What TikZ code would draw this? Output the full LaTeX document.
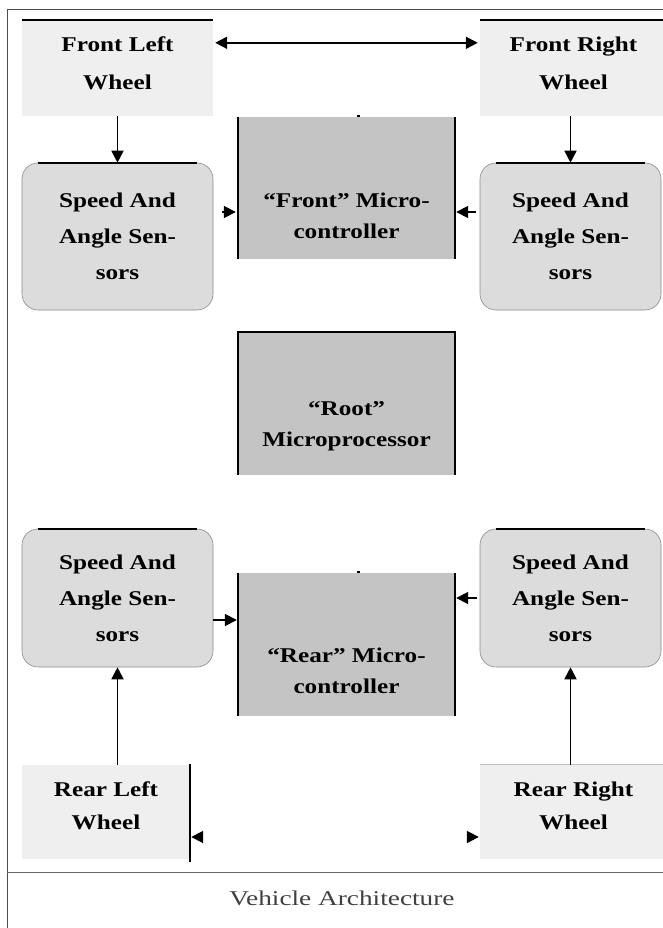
\documentclass[tikz,border=0pt]{standalone}
\usepackage{fontspec}
\setmainfont{Liberation Serif}
\newfontfamily\boxfont[FakeStretch=1.2]{Liberation Serif}
\newfontfamily\capfont[FakeStretch=1.3]{Liberation Serif}
\usetikzlibrary{arrows.meta,calc}
\definecolor{wheelgray}{HTML}{EFEFEF}
\definecolor{sensorgray}{HTML}{DCDCDC}
\definecolor{microgray}{HTML}{C4C4C4}
\tikzset{
  boxtext/.style={font=\boxfont\bfseries\fontsize{21}{36}\selectfont, align=center},
  wheeltext/.style={font=\boxfont\bfseries\fontsize{21}{38}\selectfont, align=center},
  rwheeltext/.style={font=\boxfont\bfseries\fontsize{21}{33}\selectfont, align=center},
  microtext/.style={font=\boxfont\bfseries\fontsize{21}{31}\selectfont, align=center},
  wheel/.style={fill=wheelgray, inner sep=0pt},
  sensor/.style={fill=sensorgray, draw=black!45, line width=0.6pt, rounded corners=16pt, inner sep=0pt, boxtext},
  micro/.style={fill=microgray, minimum width=217pt, inner sep=0pt},
  edge/.style={line width=1.7pt, black},
  arr/.style={line width=1.8pt, black, -{Triangle[length=12pt,width=12pt]}},
  frame/.style={black!70, line width=1pt}
}
\begin{document}
\begin{tikzpicture}[x=1pt,y=-1pt]
\useasboundingbox (0,0) rectangle (663,928);

% frame
\draw[frame] (7,928) -- (7,10) -- (663,10);
\draw[black!60, line width=0.8pt] (7,872) -- (663,872);

% wheels
\node[wheel, minimum width=191pt, minimum height=96pt, label={[wheeltext, yshift=5pt]center:{Front Left\\Wheel}}] (flw) at (117.5,68) {};
\node[wheel, minimum width=183pt, minimum height=96pt, label={[wheeltext, xshift=2pt, yshift=5pt]center:{Front Right\\Wheel}}] (frw) at (571.5,68) {};
\node[wheel, minimum width=168pt, minimum height=94pt, label={[rwheeltext, yshift=6pt]center:{Rear Left\\Wheel}}] (rlw) at (106,812) {};
\node[wheel, minimum width=183pt, minimum height=94pt, label={[rwheeltext, xshift=2pt, yshift=6pt]center:{Rear Right\\Wheel}}] (rrw) at (571.5,812) {};

% sensors
\node[sensor, minimum width=191pt, minimum height=147pt] (fls) at (117.5,236.5) {Speed And\\Angle Sen-\\sors};
\node[sensor, minimum width=181pt, minimum height=147pt] (frs) at (570.5,236.5) {Speed And\\Angle Sen-\\sors};
\node[sensor, minimum width=191pt, minimum height=138pt] (rls) at (117.5,598) {Speed And\\Angle Sen-\\sors};
\node[sensor, minimum width=181pt, minimum height=138pt] (rrs) at (570.5,598) {Speed And\\Angle Sen-\\sors};

% microcontrollers
\node[micro, minimum height=142pt, label={[microtext, yshift=-28pt]center:{“Front” Micro-\\controller}}] (fm) at (346.5,188) {};
\node[micro, minimum height=143pt, label={[microtext, yshift=-23pt]center:{“Root”\\Microprocessor}}] (root) at (346.5,403.5) {};
\node[micro, minimum height=143pt, label={[microtext, yshift=-26pt]center:{“Rear” Micro-\\controller}}] (rm) at (346.5,644.5) {};

% black edges
\draw[edge] (flw.north west) -- (flw.north east);
\draw[edge] (frw.north west) -- (frw.north east);
\draw[black!25, line width=1pt] (rrw.north west) -- (rrw.north east);
\draw[edge] ($(rlw.north east)+(0,-1)$) -- ($(rlw.south east)+(0,3)$);
\foreach \s in {fls,frs,rls,rrs}{
  \draw[edge] ($(\s.north west)+(16,0)$) -- ($(\s.north east)+(-16,0)$);
}
\draw[edge] (fm.north west) -- (fm.south west);
\draw[edge] (fm.north east) -- (fm.south east);
\draw[edge] (root.south west) -- (root.north west) -- (root.north east) -- (root.south east);
\draw[edge] (rm.north west) -- (rm.south west);
\draw[edge] (rm.north east) -- (rm.south east);
\draw[line width=1.5pt] ($(fm.north)+(10,-1)$) -- +(3,0);
\draw[line width=1.5pt] ($(rm.north)+(10,-1)$) -- +(3,0);

% connectors
\draw[line width=1.8pt, black, {Triangle[length=12pt,width=12pt]}-{Triangle[length=12pt,width=12pt]}]
  ($(flw.north east)+(2,23)$) -- ($(frw.north west)+(-2,23)$);
\draw[arr] (flw.south) -- (fls.north);
\draw[arr] (frw.south -| frs.north) -- (frs.north);
\draw[arr, shorten <=9pt, shorten >=2pt] ($(fls.east)+(0,-24.5)$) -- ($(fm.west)+(0,24)$);
\draw[arr, shorten <=4pt, shorten >=1pt] ($(frs.west)+(0,-24.5)$) -- ($(fm.east)+(0,24)$);
\draw[arr, shorten >=1pt] ($(rls.east)+(0,22)$) -- ($(rm.west)+(0,-24.5)$);
\draw[arr, shorten <=3pt, shorten >=1pt] (rrs.west) -- (rrs.west -| rm.east);
\draw[arr] (rlw.north -| rls.south) -- (rls.south);
\draw[arr] (rrw.north -| rrs.south) -- (rrs.south);
\draw[white, line width=1.8pt, {Triangle[black,length=12pt,width=12pt]}-{Triangle[black,length=12pt,width=12pt]}]
  ($(rlw.east)+(1,25)$) -- ($(rrw.west)+(-1,25)$);

% caption
\node[font=\capfont\fontsize{21}{24}\selectfont, text=black!75] (cap) at (342,898) {Vehicle Architecture};
\end{tikzpicture}
\end{document}
